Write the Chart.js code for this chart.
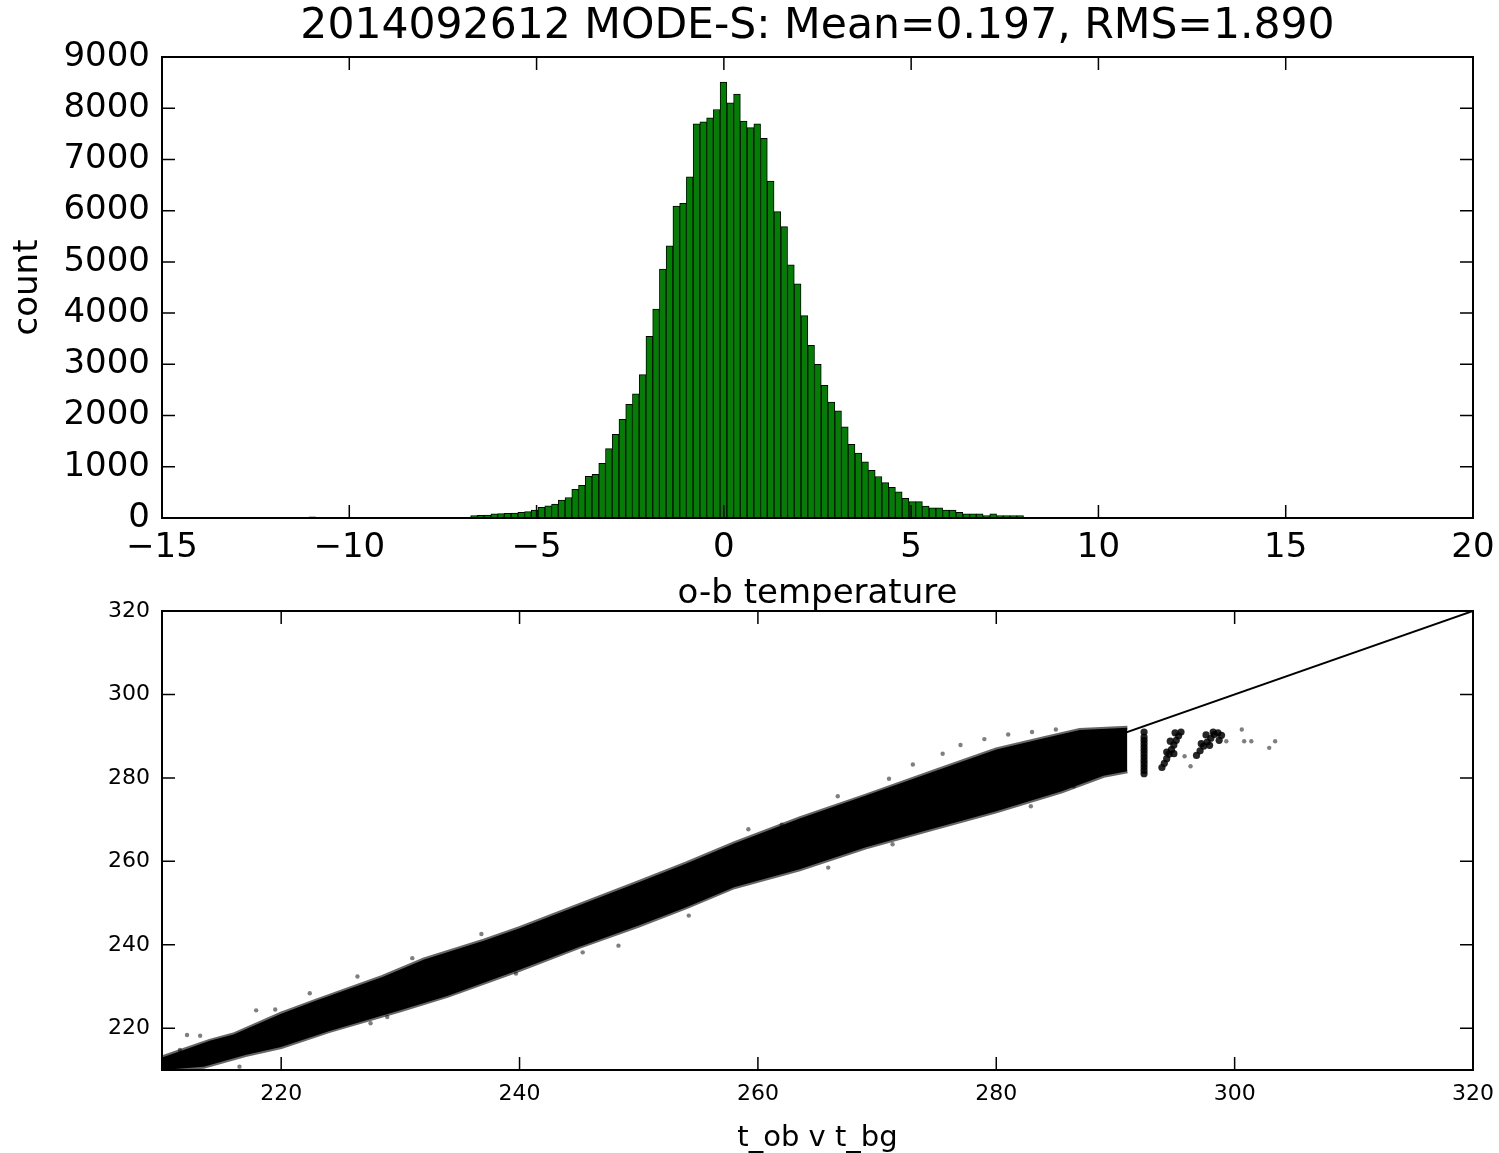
<!DOCTYPE html>
<html lang="en">
<head>
<meta charset="UTF-8">
<title>2014092612 MODE-S</title>
<script src="https://cdn.jsdelivr.net/npm/chart.js@4/dist/chart.umd.min.js"></script>
<style>
  body { margin: 0; background: #fff; }
  #wrap { position: relative; width: 1499px; height: 1153px; }
  canvas { position: absolute; left: 0; }
  #hist { top: 0; }
  #scat { top: 590px; }
</style>
</head>
<body>
<div id="wrap">
  <canvas id="hist" width="1499" height="620"></canvas>
  <canvas id="scat" width="1499" height="563"></canvas>
</div>
<script>
const titleText = '2014092612 MODE-S: Mean=0.197, RMS=1.890';

// o-b histogram: regular bins starting at binStart
const binStart = -6.76;
const binWidth = 0.18;
const counts = [
  45, 50, 55, 80, 85, 90, 95, 110, 125, 155,
  210, 240, 270, 350, 400, 560, 640, 815, 855, 1065,
  1355, 1635, 1925, 2220, 2425, 2800, 3545, 4080, 4860, 5315,
  6090, 6145, 6660, 7695, 7735, 7810, 7975, 8510, 8105, 8275,
  7750, 7620, 7695, 7410, 6580, 5980, 5690, 4945, 4570, 3950,
  3370, 3000, 2590, 2265, 2090, 1780, 1440, 1265, 1095, 930,
  810, 690, 600, 510, 385, 320, 320, 235, 200, 200,
  155, 155, 110, 80, 80, 80, 45, 80, 45, 45,
  45, 45
];
// isolated bins far out in the tails
const strayBinX = [-10.99, 15.65];
const strayBinCount = [25, 6];
const histXTicks = [-15, -10, -5, 0, 5, 10, 15, 20];
const histYTicks = [0, 1000, 2000, 3000, 4000, 5000, 6000, 7000, 8000, 9000];

// t_ob v t_bg: dense cloud as upper / lower edge of the band
const bandUpperX = [210, 212, 214, 216, 220, 223, 228.5, 232, 237, 240, 245, 250, 254, 258, 263.5, 269, 275, 280, 284, 287, 291];
const bandUpperY = [213, 215, 217, 218.5, 223.5, 226.7, 232.3, 236.5, 241, 244, 249.5, 255, 259.5, 264.3, 270.3, 275.7, 281.8, 286.8, 289.5, 291.5, 292];
const bandLowerX = [210, 213.5, 217, 220, 224, 230, 234, 240, 245, 250, 254, 258, 263.5, 269, 274.5, 280, 285.5, 289, 291];
const bandLowerY = [210, 210.8, 213.6, 215.5, 219.3, 224.3, 227.8, 234, 239.5, 244.6, 249, 253.8, 258.1, 263.3, 267.7, 272, 276.8, 280.5, 281.6];
// compact clusters beyond the band
const clusterX = [292.4, 292.4, 292.4, 292.4, 292.4, 292.4, 292.4, 292.4, 292.4, 292.4, 292.4, 292.4, 292.4,
  293.9, 294.1, 294.3, 294.5, 294.7, 294.9, 295.1, 295.3, 295.5, 294.6, 295.0, 294.3, 294.9,
  296.8, 297.1, 297.4, 297.7, 298.0, 298.3, 298.6, 298.9, 297.6, 298.2, 298.7, 297.2, 297.9];
const clusterY = [281, 281.8, 282.6, 283.4, 284.2, 285, 285.8, 286.6, 287.4, 288.2, 289, 289.8, 291,
  282.5, 283.5, 284.6, 285.7, 286.8, 287.9, 289, 290.1, 291, 288.8, 290.8, 286.2, 285.8,
  285.4, 286.5, 287.6, 288.6, 289.5, 290.4, 290.8, 290.2, 290.3, 291, 289, 288.2, 287.8];
// loose points around the band
const strayX = [211.5, 212.1, 213.2, 217.9, 219.5, 222.4, 226.4, 227.5, 228.9, 231, 236.8, 239.7, 245.3, 248.3, 216.5,
  254.2, 259.2, 262, 265.9, 266.7, 271.3, 271, 273, 275.5, 277, 279, 281, 283, 285, 282.9, 286.5,
  295.8, 296.3, 299.3, 300.6, 300.8, 301.4, 302.9, 303.4];
const strayY = [214.8, 218.4, 218.2, 224.3, 224.5, 228.4, 232.4, 221.2, 222.7, 236.8, 242.6, 233.1, 238.2, 239.8, 210.8,
  247, 267.7, 268.8, 258.5, 275.6, 264.1, 279.8, 283.2, 285.8, 287.9, 289.3, 290.4, 291, 291.6, 273.2, 278,
  285.2, 282.8, 288.8, 291.6, 288.8, 288.8, 287.2, 288.8];
const diagX = [210, 320];
const diagY = [210, 320];
const scatTicks = [220, 240, 260, 280, 300, 320];

Chart.defaults.font.family = "'DejaVu Sans', sans-serif";
Chart.defaults.color = '#000';

const pts = (xs, ys) => xs.map((x, i) => ({ x: x, y: ys[i] }));

// matplotlib-style frame with inward ticks on all four sides
const framePlugin = {
  id: 'frame',
  afterDraw(chart) {
    const { ctx, chartArea: a, scales } = chart;
    const len = 13;
    ctx.save();
    ctx.strokeStyle = '#000';
    ctx.lineWidth = 1.5;
    ctx.beginPath();
    scales.x.ticks.forEach(t => {
      const p = scales.x.getPixelForValue(t.value);
      ctx.moveTo(p, a.bottom); ctx.lineTo(p, a.bottom - len);
      ctx.moveTo(p, a.top); ctx.lineTo(p, a.top + len);
    });
    scales.y.ticks.forEach(t => {
      const p = scales.y.getPixelForValue(t.value);
      ctx.moveTo(a.left, p); ctx.lineTo(a.left + len, p);
      ctx.moveTo(a.right, p); ctx.lineTo(a.right - len, p);
    });
    ctx.stroke();
    ctx.lineWidth = 2;
    ctx.strokeRect(a.left, a.top, a.right - a.left, a.bottom - a.top);
    ctx.restore();
  }
};

const minus = v => (v < 0 ? '\u2212' + (-v) : String(v));
const plain = v => String(v);
// keep label overhang from shrinking the plot area
const noPadX = h => s => { s.height = h; s.paddingLeft = 0; s.paddingRight = 0; };
const noPadY = w => s => { s.width = w; s.paddingTop = 0; s.paddingBottom = 0; };

// top: histogram
const histData = counts.map((c, i) => ({ x: binStart + (i + 0.5) * binWidth, y: c }))
  .concat(pts(strayBinX, strayBinCount));

new Chart(document.getElementById('hist'), {
  type: 'bar',
  data: {
    datasets: [{
      data: histData,
      backgroundColor: '#008000',
      borderColor: '#000',
      borderWidth: 1,
      borderSkipped: false,
      barPercentage: 1,
      categoryPercentage: 1
    }]
  },
  options: {
    responsive: false,
    animation: false,
    events: [],
    layout: { padding: { left: 0, right: 26, top: 0, bottom: 0 } },
    plugins: {
      legend: { display: false },
      tooltip: { enabled: false },
      title: {
        display: true,
        text: titleText,
        fullSize: false,
        font: { size: 42.5, weight: 'normal' },
        padding: { top: 1, bottom: 5 }
      }
    },
    scales: {
      x: {
        type: 'linear',
        min: -15, max: 20,
        offset: false,
        grid: { display: false, drawTicks: false },
        border: { display: false },
        afterBuildTicks: s => { s.ticks = histXTicks.map(v => ({ value: v })); },
        afterFit: noPadX(102),
        ticks: { font: { size: 34 }, padding: 10, maxRotation: 0, autoSkip: false, callback: minus },
        title: { display: true, text: 'o-b temperature', font: { size: 34 }, padding: { top: 0, bottom: 5 } }
      },
      y: {
        min: 0, max: 9000,
        grid: { display: false, drawTicks: false },
        border: { display: false },
        afterBuildTicks: s => { s.ticks = histYTicks.map(v => ({ value: v })); },
        afterFit: noPadY(162),
        ticks: { font: { size: 34 }, padding: 12, autoSkip: false, callback: plain },
        title: { display: true, text: 'count', font: { size: 34 }, padding: { top: 8, bottom: 0 } }
      }
    }
  },
  plugins: [framePlugin]
});

// bottom: t_ob against t_bg
new Chart(document.getElementById('scat'), {
  type: 'line',
  data: {
    datasets: [
      {
        data: pts(bandUpperX, bandUpperY),
        borderColor: 'rgba(0,0,0,0.6)',
        borderWidth: 4,
        backgroundColor: '#000',
        pointRadius: 0,
        tension: 0,
        fill: '+1'
      },
      {
        data: pts(bandLowerX, bandLowerY),
        borderColor: 'rgba(0,0,0,0.6)',
        borderWidth: 4,
        pointRadius: 0,
        tension: 0,
        fill: false
      },
      {
        type: 'scatter',
        data: pts(clusterX, clusterY),
        pointRadius: 3.6,
        pointBackgroundColor: 'rgba(0,0,0,0.85)',
        pointBorderWidth: 0,
        showLine: false
      },
      {
        type: 'scatter',
        data: pts(strayX, strayY),
        pointRadius: 2.2,
        pointBackgroundColor: 'rgba(0,0,0,0.5)',
        pointBorderWidth: 0,
        showLine: false
      },
      {
        data: pts(diagX, diagY),
        borderColor: '#000',
        borderWidth: 2,
        pointRadius: 0,
        tension: 0,
        fill: false
      }
    ]
  },
  options: {
    responsive: false,
    animation: false,
    events: [],
    layout: { padding: { left: 0, right: 26, top: 21, bottom: 0 } },
    plugins: { legend: { display: false }, tooltip: { enabled: false } },
    scales: {
      x: {
        type: 'linear',
        min: 210, max: 320,
        grid: { display: false, drawTicks: false },
        border: { display: false },
        afterBuildTicks: s => { s.ticks = scatTicks.map(v => ({ value: v })); },
        afterFit: noPadX(83),
        ticks: { font: { size: 22 }, padding: 11, maxRotation: 0, autoSkip: false },
        title: { display: true, text: 't_ob v t_bg', font: { size: 29, lineHeight: 1.0 }, padding: { top: 0, bottom: 0 } }
      },
      y: {
        type: 'linear',
        min: 210, max: 320,
        grid: { display: false, drawTicks: false },
        border: { display: false },
        afterBuildTicks: s => { s.ticks = scatTicks.map(v => ({ value: v })); },
        afterFit: noPadY(162),
        ticks: { font: { size: 22 }, padding: 12, autoSkip: false }
      }
    }
  },
  plugins: [framePlugin]
});
</script>
</body>
</html>
